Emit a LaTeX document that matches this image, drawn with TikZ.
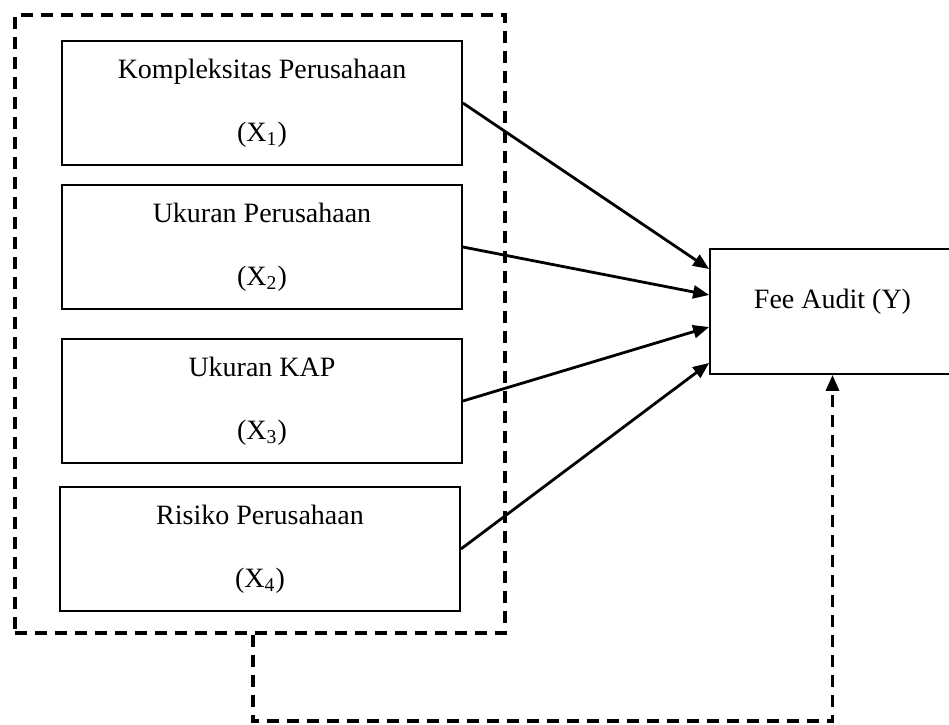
\documentclass[tikz,border=0pt]{standalone}
\usepackage{fontspec}
\setmainfont{Liberation Serif}
\usetikzlibrary{arrows.meta}
\tikzstyle{VarBox}=[draw,line width=0.9pt,minimum width=200pt,minimum height=62pt,
align=center,inner sep=2pt,font=\fontsize{14}{31.5}\selectfont]
\tikzstyle{FeeBox}=[draw,line width=0.9pt,minimum width=122.5pt,minimum height=62.5pt,
text depth=13pt,font=\fontsize{14}{17}\selectfont]
\tikzstyle{DashFrame}=[draw,line width=1.6pt,dash pattern=on 6pt off 4pt,
minimum width=245pt,minimum height=309pt]
\tikzstyle{ArrowLink}=[line width=1.4pt,-{Triangle[length=8pt,width=6.5pt]}]
\tikzstyle{FeedBack}=[line width=1.6pt,dash pattern=on 6pt off 4pt,
-{Triangle[length=8pt,width=6.5pt]}]
\begin{document}
\begin{tikzpicture}[x=0.5pt,y=-0.5pt]
        \useasboundingbox(0,0)rectangle(949,724);
        \node[DashFrame](frame)at(260,324){};
        \node[VarBox](x1)at(262,103){Kompleksitas Perusahaan\\(X\textsubscript{1})};
        \node[VarBox](x2)at(262,247){Ukuran Perusahaan\\(X\textsubscript{2})};
        \node[VarBox](x3)at(262,401){Ukuran KAP\\(X\textsubscript{3})};
        \node[VarBox](x4)at(260,549){Risiko Perusahaan\\(X\textsubscript{4})};
        \node[FeeBox](fee)at(832.5,311.5){Fee Audit (Y)};
        \coordinate(bend)at(832.5,721);
        \draw[ArrowLink](x1.east)--([yshift=21.25pt]fee.west);
        \draw[ArrowLink](x2.east)--([yshift=8.25pt]fee.west);
        \draw[ArrowLink](x3.east)--([yshift=-7.75pt]fee.west);
        \draw[ArrowLink](x4.east)--([yshift=-25.75pt]fee.west);
        \draw[FeedBack]([xshift=-3.5pt]frame.south)|-(bend)--(fee.south);
    \end{tikzpicture}
\end{document}
